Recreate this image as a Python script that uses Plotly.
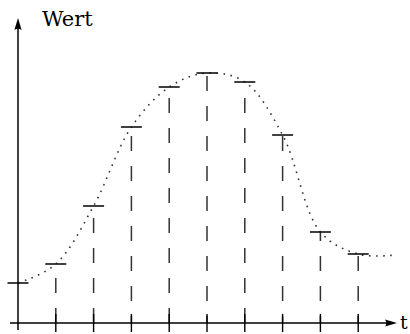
import plotly.graph_objects as go

# ---- data ----
sample_t = [0, 1, 2, 3, 4, 5, 6, 7, 8, 9]
sample_val = [40, 59, 117, 196, 236, 250, 241, 188, 91, 69]
curve_t = [0, 1, 2, 3, 4, 5, 6, 7, 8, 9, 10]
curve_val = [40, 59, 117, 196, 236, 250, 241, 188, 91, 69, 68]
tick_t = [1, 2, 3, 4, 5, 6, 7, 8, 9]
y_label = "Wert"
x_label = "t"

# ---- style / layout constants ----
W, H = 410, 334
PX_PER_T = 37.8
ORIGIN_X = 18.0
ORIGIN_Y = 323.0
x_range = [-ORIGIN_X / PX_PER_T, (W - ORIGIN_X) / PX_PER_T]
y_range = [-(H - ORIGIN_Y), ORIGIN_Y]

def px_to_t(px):
    return (px - ORIGIN_X) / PX_PER_T

def px_to_v(py):
    return ORIGIN_Y - py

phase_b = {3, 5, 7, 8, 9}
dash_a = "15px,15px"
dash_b = "7px," + ",".join(["15px"] * 18)

fig = go.Figure()

# dotted underlying curve
fig.add_trace(go.Scatter(
    x=curve_t, y=curve_val, mode="lines",
    line=dict(shape="spline", smoothing=1.0, color="#333333", width=1.6, dash="1.6px,5.5px"),
    hoverinfo="skip", showlegend=False))

# dashed vertical lines (two dash phases)
for group, dash in ((False, dash_a), (True, dash_b)):
    xs, ys = [], []
    for t, v in zip(sample_t, sample_val):
        if t == 0:
            continue
        if (t in phase_b) != group:
            continue
        xs += [t, t, None]
        ys += [0, v, None]
    fig.add_trace(go.Scatter(
        x=xs, y=ys, mode="lines",
        line=dict(color="#333333", width=1.5, dash=dash),
        hoverinfo="skip", showlegend=False))

# sample marks
fig.add_trace(go.Scatter(
    x=sample_t, y=sample_val, mode="markers",
    marker=dict(symbol="line-ew", size=15, line=dict(color="#111111", width=1.6)),
    hoverinfo="skip", showlegend=False, cliponaxis=False))

# axis ticks crossing the t axis
fig.add_trace(go.Scatter(
    x=tick_t, y=[0] * len(tick_t), mode="markers",
    marker=dict(symbol="line-ns", size=13, line=dict(color="black", width=1.4)),
    hoverinfo="skip", showlegend=False, cliponaxis=False))

# axes lines
x_axis_start = px_to_t(10)
x_axis_tip = px_to_t(397)
y_axis_start = px_to_v(330)
y_axis_tip = px_to_v(18)
shapes = [
    dict(type="line", xref="x", yref="y", x0=x_axis_start, x1=px_to_t(388), y0=0, y1=0,
         line=dict(color="black", width=1.5)),
    dict(type="line", xref="x", yref="y", x0=0, x1=0, y0=y_axis_start, y1=px_to_v(27),
         line=dict(color="black", width=1.5)),
    # arrow heads
    dict(type="path", xref="x", yref="y", xsizemode="pixel", ysizemode="pixel",
         xanchor=x_axis_tip, yanchor=0,
         path="M0,0 L-12,3.6 Q-9.5,0 -12,-3.6 Z",
         fillcolor="black", line=dict(width=0)),
    dict(type="path", xref="x", yref="y", xsizemode="pixel", ysizemode="pixel",
         xanchor=0, yanchor=y_axis_tip,
         path="M0,0 L-3.6,-12 Q0,-9.5 3.6,-12 Z",
         fillcolor="black", line=dict(width=0)),
]

annotations = [
    dict(x=px_to_t(40), y=px_to_v(19), xref="x", yref="y", text=y_label, showarrow=False,
         xanchor="left", yanchor="middle",
         font=dict(family="DejaVu Serif", size=21, color="black")),
    dict(x=px_to_t(409.5), y=px_to_v(322), xref="x", yref="y", text=x_label, showarrow=False,
         xanchor="right", yanchor="middle",
         font=dict(family="DejaVu Serif", size=19, color="black")),
]

fig.update_layout(
    width=W, height=H,
    margin=dict(l=0, r=0, t=0, b=0),
    paper_bgcolor="white", plot_bgcolor="white",
    xaxis=dict(range=x_range, visible=False, fixedrange=True),
    yaxis=dict(range=y_range, visible=False, fixedrange=True),
    shapes=shapes, annotations=annotations, showlegend=False,
)

fig.write_html(
    "out.html",
    config={"displayModeBar": False},
    post_script="document.body.style.margin='0';document.body.style.overflow='hidden';",
)
